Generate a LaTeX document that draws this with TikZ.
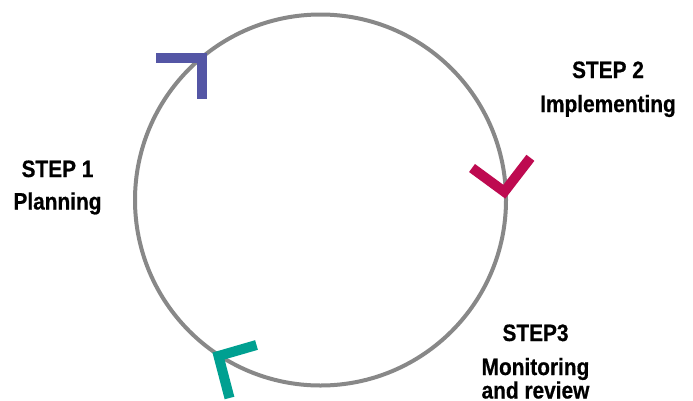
\documentclass[tikz,border=0pt]{standalone}
\usepackage{fontspec}
\newfontfamily\lab[FakeStretch=0.88,FakeBold=0.6]{Liberation Sans}
\definecolor{ringgray}{RGB}{136,136,136}
\definecolor{cblue}{RGB}{84,86,165}
\definecolor{cmag}{RGB}{190,10,80}
\definecolor{cteal}{RGB}{0,160,145}
\tikzset{
  ring/.style={draw=ringgray, line width=4pt},
  chev/.style={line width=10pt, line join=miter, line cap=butt},
  lbl/.style={anchor=base, inner sep=0pt, font=\lab\bfseries\fontsize{23.7}{25}\selectfont, text=black}
}
\begin{document}
\begin{tikzpicture}[x=1pt,y=-1pt]
\useasboundingbox (0,0) rectangle (693,400);
\coordinate (c) at (320.5,200);
\draw[ring] (c) circle (185.5pt);
% chevrons
\coordinate (b1) at (156,58); \coordinate (bv) at (202,58); \coordinate (b2) at (202,99);
\draw[chev, cblue] (b1) -- (bv) -- (b2);
\coordinate (m1) at (472,168); \coordinate (mv) at (504.3,191.7); \coordinate (m2) at (530.4,157.8);
\draw[chev, cmag] (m1) -- (mv) -- (m2);
\coordinate (t1) at (256.5,345); \coordinate (tv) at (218.5,356); \coordinate (t2) at (229.5,398);
\draw[chev, cteal] (t1) -- (tv) -- (t2);
% labels
\node[lbl] (s1) at (57.5,177) {STEP 1};
\node[lbl] (p1) at (57.5,209.5) {Planning};
\node[lbl] (s2) at (608,78) {STEP 2};
\node[lbl] (p2) at (608,112) {Implementing};
\node[lbl] (s3) at (535.5,341) {STEP3};
\node[lbl] (p3) at (535.5,375) {Monitoring};
\node[lbl] (p3b) at (535.5,398.5) {and review};
\end{tikzpicture}
\end{document}
